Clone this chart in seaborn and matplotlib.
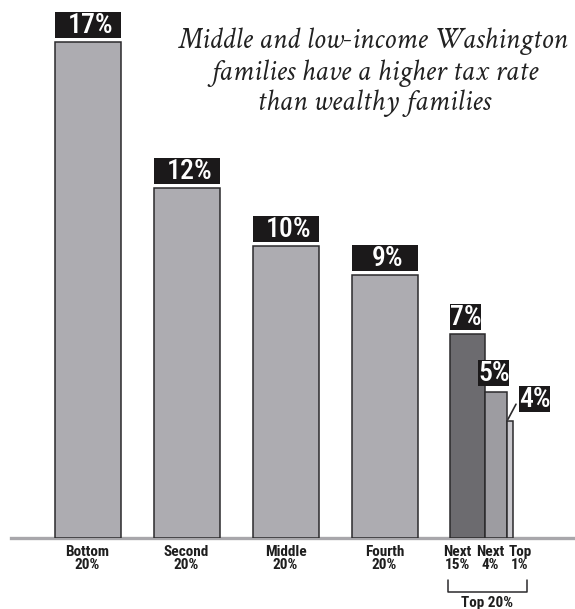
import matplotlib
matplotlib.use("Agg")
import matplotlib.pyplot as plt
from matplotlib.patches import Rectangle
import pandas as pd
import seaborn as sns

# Tax rate by income group (percent of income)
groups = ["Bottom\n20%", "Second\n20%", "Middle\n20%", "Fourth\n20%"]
rates = [17, 12, 10, 9]

# the top 20% split into three pieces
top_groups = ["Next\n15%", "Next\n4%", "Top\n1%"]
top_rates = [7, 5, 4]

title_lines = ["Middle and low-income Washington",
               "families have a higher tax rate",
               "than wealthy families"]

# layout helpers (pixel sizes of the 575x609 picture)
W, H = 575, 609
SLOT = 99.0          # px between main bar centres
X0 = 87.5            # px centre of first bar
YPX = 29.2           # px per percentage point
BASE = 538           # px of baseline from top


def px_x(p):
    return (p - X0) / SLOT


def px_w(p):
    return p / SLOT


def px_h(p):
    return p / YPX


def px_y(p):
    # pixel row (from top) -> data y
    return (BASE - p) / YPX


COND = ["Roboto Condensed", "Archivo Narrow", "DejaVu Sans"]
SERIF = ["Crimson Text", "EB Garamond", "Liberation Serif", "DejaVu Serif"]

sns.set_theme(style="white")
plt.rcParams["font.family"] = COND

fig = plt.figure(figsize=(W / 100, H / 100), dpi=100)
ax = fig.add_axes([11 / W, (H - BASE) / H, (W - 11) / W, BASE / H])

main_fill = "#adacb1"
edge = "#2b2a2c"
box_col = "#1b191a"

df = pd.DataFrame({"group": groups, "rate": rates})
sns.barplot(data=df, x="group", y="rate", color=main_fill, width=66 / SLOT,
            saturation=1, edgecolor=edge, linewidth=1.1, ax=ax, zorder=3)

# the top 20% bars, narrower and touching
top_edges = [450, 485, 507, 513]
top_lefts = [px_x(p) for p in top_edges[:-1]]
top_widths = [px_w(b - a) for a, b in zip(top_edges[:-1], top_edges[1:])]
top_colors = ["#6c6b6f", "#9d9ca1", "#c9c8cd"]
ax.bar(top_lefts, top_rates, width=top_widths, align="edge", color=top_colors,
       edgecolor=edge, linewidth=1.1, zorder=3)

ax.set_xlim(px_x(11), px_x(W))
ax.set_ylim(0, BASE / YPX)

# value boxes above main bars
for i, v in enumerate(rates):
    w = 66 / SLOT
    bottom = v + px_h(4)
    ax.add_patch(Rectangle((i - w / 2, bottom), w, px_h(26), facecolor=box_col,
                           edgecolor="none", zorder=4))
    ax.text(i + px_w(3), bottom + px_h(12.5), f"{v}%", color="white", fontsize=20,
            fontweight="medium", ha="center", va="center", zorder=5)

# value boxes for the top 20% bars: (left px, gap px)
box_spec = [(450, 4), (478, 6), (519, 9)]
for (lx, gap), v in zip(box_spec, top_rates):
    bottom = v + px_h(gap)
    ax.add_patch(Rectangle((px_x(lx), bottom), px_w(31), px_h(26),
                           facecolor=box_col, edgecolor="none", zorder=4))
    ax.text(px_x(lx + 16), bottom + px_h(12.5), f"{v}%", color="white", fontsize=20,
            fontweight="medium", ha="center", va="center", zorder=5)

# leader line for the top 1% label
ax.plot([px_x(508), px_x(516)], [top_rates[2] + px_h(2), top_rates[2] + px_h(17)],
        color=edge, lw=1.2, zorder=5)

# baseline
for s in ["top", "right", "left"]:
    ax.spines[s].set_visible(False)
ax.spines["bottom"].set_color("#a8a7ab")
ax.spines["bottom"].set_linewidth(2.4)
ax.spines["bottom"].set_zorder(2)
ax.set_yticks([])
ax.set_ylabel("")
ax.set_xlabel("")

# category labels as ticks
tick_pos = list(range(len(groups))) + [px_x(457), px_x(490), px_x(520)]
ax.set_xticks(tick_pos, groups + top_groups)
ax.tick_params(axis="x", length=0, pad=5, labelsize=11, labelcolor="#1e1e1e")
for lab in ax.get_xticklabels():
    lab.set_fontweight("bold")
    lab.set_linespacing(0.95)

# bracket under the top 20%
by = px_y(592)
ax.plot([px_x(448), px_x(448), px_x(527), px_x(527)],
        [px_y(580), by, by, px_y(580)], color="#2b2a2c", lw=1.1, clip_on=False)
ax.text(px_x(487), px_y(596), "Top 20%", fontsize=11, fontweight="bold",
        ha="center", va="top", color="#1e1e1e")

# headline, one text per line at its baseline
for line, base in zip(title_lines, [48, 80, 110]):
    ax.text(px_x(374), px_y(base), line, fontsize=21.5, fontstyle="italic",
            family=SERIF, ha="center", va="baseline", color="#222222")

fig.savefig("out.png", dpi=100)
